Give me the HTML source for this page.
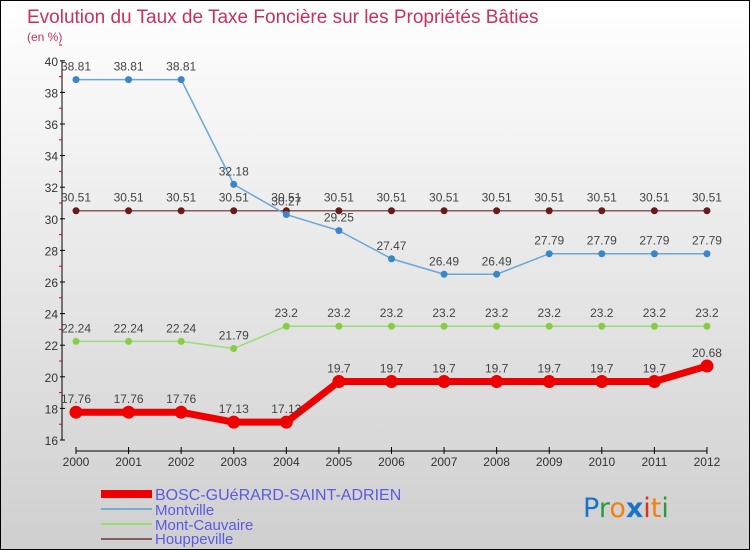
<!DOCTYPE html>
<html><head><meta charset="utf-8"><style>
body{margin:0}
#c{width:748px;height:548px;border:1px solid #000;background:linear-gradient(#fff,#cfcfcf);position:relative;font-family:"Liberation Sans",sans-serif;overflow:hidden}
</style></head><body>
<div id="c">
<svg id="s" width="748" height="548" xmlns="http://www.w3.org/2000/svg" font-family="Liberation Sans, sans-serif">
<text x="26" y="22" font-size="19" fill="#c8315f">Evolution du Taux de Taxe Foncière sur les Propriétés Bâties</text>
<text x="26" y="40" font-size="12" fill="#c8315f">(en %)</text>
<g id="axes"></g><g id="series"></g>
<g>
<rect x="100" y="489" width="51" height="8" fill="#e00"/>
<text x="154" y="499" font-size="16" fill="#5a5ae6">BOSC-GUéRARD-SAINT-ADRIEN</text>
<rect x="100" y="507" width="51" height="2" fill="#7aaed0"/>
<text x="154" y="514" font-size="15" fill="#5a5ae6">Montville</text>
<rect x="100" y="522" width="51" height="2" fill="#99dd77"/>
<text x="154" y="529" font-size="15" fill="#5a5ae6">Mont-Cauvaire</text>
<rect x="100" y="537" width="51" height="2" fill="#8a5a5a"/>
<text x="154" y="543" font-size="15" fill="#5a5ae6">Houppeville</text>
</g>
<text x="582" y="516" font-size="27" font-family="DejaVu Sans, sans-serif"><tspan fill="#1a73c8">P</tspan><tspan fill="#2a9a3a">r</tspan><tspan fill="#f08010">o</tspan><tspan fill="#1a73c8" font-weight="bold">x</tspan><tspan fill="#e03010">i</tspan><tspan fill="#f08010">t</tspan><tspan fill="#2a9a3a">i</tspan></text>
</svg></div>
<script>
const years=[2000,2001,2002,2003,2004,2005,2006,2007,2008,2009,2010,2011,2012];
const bosc=[17.76,17.76,17.76,17.13,17.13,19.7,19.7,19.7,19.7,19.7,19.7,19.7,20.68];
const montville=[38.81,38.81,38.81,32.18,30.27,29.25,27.47,26.49,26.49,27.79,27.79,27.79,27.79];
const montCauvaire=[22.24,22.24,22.24,21.79,23.2,23.2,23.2,23.2,23.2,23.2,23.2,23.2,23.2];
const houppeville=[30.51,30.51,30.51,30.51,30.51,30.51,30.51,30.51,30.51,30.51,30.51,30.51,30.51];
const yTicks=[16,18,20,22,24,26,28,30,32,34,36,38,40];
const NS="http://www.w3.org/2000/svg";
function X(i){return 75+i*52.58;}
function Y(v){return 439-(v-16)*15.8;}
function mk(t,a,p){const e=document.createElementNS(NS,t);for(const k in a)e.setAttribute(k,a[k]);p.appendChild(e);return e;}
const ax=document.getElementById('axes'),sg=document.getElementById('series');
let yl=mk('line',{x1:61,y1:Y(40),x2:61,y2:Y(16),stroke:'#000'},ax);

yTicks.forEach(v=>{mk('line',{x1:59,y1:Y(v),x2:64,y2:Y(v),stroke:'#000'},ax);
 mk('line',{x1:58,y1:Y(v+1),x2:61,y2:Y(v+1),stroke:'#e00'},ax);
 const t=mk('text',{x:57,y:Y(v)+5,'font-size':12,fill:'#333','text-anchor':'end'},ax);t.textContent=v;
 });
let xl=mk('line',{x1:75,y1:450,x2:X(12),y2:450,stroke:'#000'},ax);

years.forEach((y,i)=>{mk('line',{x1:X(i),y1:446,x2:X(i),y2:453,stroke:'#000'},ax);
 const t=mk('text',{x:X(i),y:465,'font-size':12,fill:'#333','text-anchor':'middle'},ax);t.textContent=y;
 });
function series(d,name,col,dot,w,r){
 const g=mk('g',{},sg);
 mk('polyline',{points:d.map((v,i)=>X(i)+','+Y(v)).join(' '),fill:'none',stroke:col,'stroke-width':w,'stroke-linejoin':'round'},g);
 d.forEach((v,i)=>{const c=mk('circle',{cx:X(i),cy:Y(v),r:r,fill:dot},g);
  
  const t=mk('text',{x:X(i),y:Y(v)-9,'font-size':12,fill:'#444','text-anchor':'middle'},g);t.textContent=v;
  });
}
series(houppeville,'houppeville','#8a5a5a','#6a1a1a',1.5,3.5);
series(montville,'montville','#6aa6d6','#3a86c6',1.5,3.5);
series(montCauvaire,'mont-cauvaire','#99dd77','#88cc44',1.5,3.5);
series(bosc,'bosc','#e00','#e00',7,6.5);
</script>
</body></html>
